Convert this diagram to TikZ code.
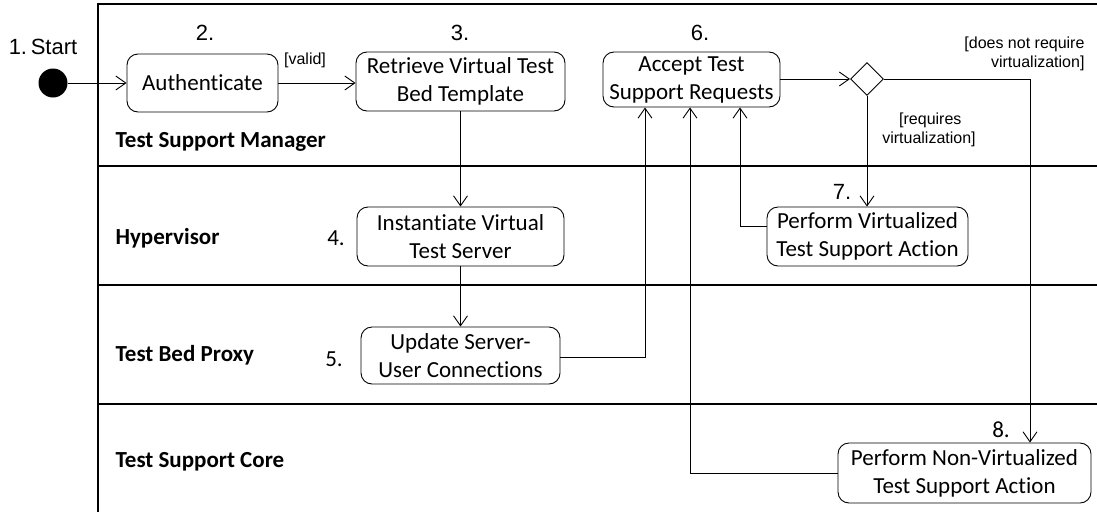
\documentclass[tikz,border=0pt]{standalone}
\usepackage{fontspec}
\setmainfont{Carlito}[Ligatures=CommonOff]
\newfontfamily\arialf{Liberation Sans}
\usetikzlibrary{arrows.meta,shapes.geometric}
\begin{document}
\begin{tikzpicture}[x=1pt,y=-1pt,
  act/.style={draw,rounded corners=11pt,line width=0.9pt,align=center,font=\fontsize{23}{28}\selectfont,inner sep=0pt},
  lane/.style={line width=2.4pt},
  flow/.style={line width=0.9pt,-{Straight Barb[length=10pt,width=14pt,line width=0.9pt]}},
  num/.style={font=\fontsize{23}{26}\selectfont},
  numa/.style={font=\arialf\fontsize{22}{26}\selectfont},
  lanelbl/.style={font=\bfseries\fontsize{23}{26}\selectfont,anchor=west},
  guard/.style={font=\arialf\fontsize{16}{19}\selectfont,align=center}]
\useasboundingbox (0,0) rectangle (1097,512);
% swimlanes
\draw[lane] (1097,4) -- (98,4) -- (98,512);
\draw[lane] (98,166) -- (1097,166);
\draw[lane] (98,285) -- (1097,285);
\draw[lane] (98,404) -- (1097,404);
\node[lanelbl] (l1) at (112,142) {Test Support Manager};
\node[lanelbl] (l2) at (112,238) {Hypervisor};
\node[lanelbl] (l3) at (112,355) {Test Bed Proxy};
\node[lanelbl] (l4) at (112,462) {Test Support Core};
% start
\node[circle,fill=black,minimum size=29pt,inner sep=0pt] (start) at (53,83) {};
\node[numa] (startl) at (43,47) {1.\,Start};
% activities
\node[act,minimum width=151pt,minimum height=58pt] (a2) at (202.5,83) {Authenticate};
\node[act,minimum width=209pt,minimum height=59pt] (a3) at (460.5,81.5) {Retrieve Virtual Test\\Bed Template};
\node[act,minimum width=177pt,minimum height=55pt] (a6) at (691.5,79.5) {Accept Test\\Support Requests};
\node[act,minimum width=207pt,minimum height=59pt] (a4) at (460.5,236.5) {Instantiate Virtual\\Test Server};
\node[act,minimum width=199pt,minimum height=57pt] (a5) at (460.5,355.5) {Update Server-\\User Connections};
\node[act,minimum width=201pt,minimum height=59pt] (a7) at (867.5,236.5) {Perform Virtualized\\Test Support Action};
\node[act,minimum width=253pt,minimum height=60pt] (a8) at (964.5,473) {Perform Non-Virtualized\\Test Support Action};
\node[draw,diamond,line width=0.9pt,minimum width=33pt,minimum height=33pt,inner sep=0pt] (dec) at (867,79) {};
% numbers
\node[numa] (n2) at (205,33) {2.};
\node[numa] (n3) at (460,33) {3.};
\node[numa] (n6) at (700,33) {6.};
\node[num] (n4) at (336,238) {4.};
\node[num] (n5) at (334,359) {5.};
\node[numa] (n7) at (842,192) {7.};
\node[num] (n8) at (1001,430) {8.};
% guards
\node[guard] (gv) at (305,60) {[valid]};
\node[guard,align=right] (gn) at (1016,54) {[does not require\\\hphantom{[does }virtualization]};
\node[guard,align=left] (gr) at (929,130) {\hphantom{vir}[requires\\virtualization]};
% connectors
\draw[flow] (start) -- (a2);
\draw[flow] (a2) -- (a3.west|-a2);
\draw[flow] (a3) -- (a4);
\draw[flow] (a4) -- (a5);
\draw[flow] (a6.east|-dec) -- (dec.west);
\draw[flow] (dec.south) -- (a7.north-|dec);
\coordinate (c8) at (1030,79);
\draw[flow] (dec.east) -- (c8) -- (c8|-a8.north);
\coordinate (c5) at (645,357);
\draw[flow] (a5.east|-c5) -- (c5) -- (c5|-a6.south);
\coordinate (c7) at (740,226);
\draw[flow] (a7.west|-c7) -- (c7) -- (c7|-a6.south);
\coordinate (c9) at (690,473);
\draw[flow] (a8.west) -- (c9) -- (c9|-a6.south);
\end{tikzpicture}
\end{document}
